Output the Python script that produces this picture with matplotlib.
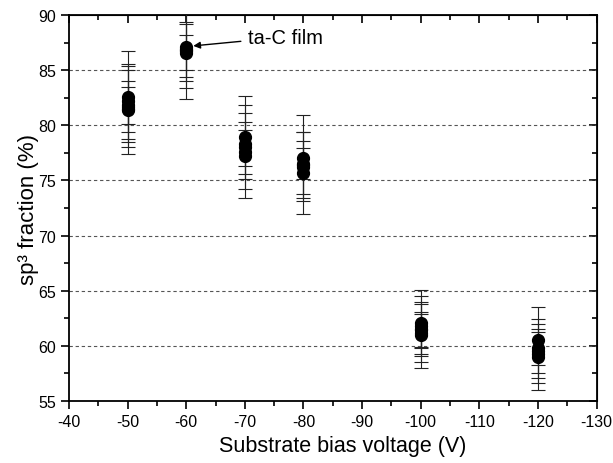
import matplotlib.pyplot as plt
from matplotlib.ticker import MultipleLocator

plt.rcParams["font.family"] = ["Liberation Sans", "DejaVu Sans"]
plt.rcParams["axes.unicode_minus"] = False

# substrate bias voltage (V) and sp3 fraction (%) with error bars
bias = [-50] * 6 + [-60] * 5 + [-70] * 5 + [-80] * 5 + [-100] * 6 + [-120] * 5
sp3 = [82.6, 82.2, 81.8, 81.5, 81.4, 81.7,
       87.1, 86.9, 86.7, 86.6, 86.8,
       78.9, 78.0, 77.25, 78.3, 77.6,
       77.0, 76.4, 75.7, 76.2, 76.5,
       62.1, 61.5, 61.0, 61.4, 61.8, 61.2,
       60.5, 59.55, 59.0, 59.8, 59.3]
err = [4.1, 3.4, 1.7, 3.5, 4.0, 2.3,
       4.7, 3.5, 2.7, 1.6, 2.4,
       3.8, 3.8, 3.85, 2.0, 2.0,
       3.9, 3.0, 3.7, 2.4, 1.4,
       3.0, 3.0, 3.0, 1.5, 2.0, 1.9,
       3.0, 2.9, 3.0, 1.5, 2.2]

grid_y = [60, 65, 70, 75, 80, 85]

fig = plt.figure(figsize=(6.13, 4.64), dpi=100)
ax = fig.add_axes([0.1126, 0.1336, 0.8605, 0.8319])

for g in grid_y:
    ax.axhline(g, color="#555555", lw=0.8, ls=(0, (3, 2.5)), zorder=1)

ax.errorbar(bias, sp3, yerr=err, fmt="o", color="black", ms=8.5,
            ecolor="#222222", elinewidth=0.8, capsize=5, capthick=0.8,
            zorder=3)

ax.set_xlim(-40, -130)
ax.set_ylim(55, 90)
ax.xaxis.set_major_locator(MultipleLocator(10))
ax.xaxis.set_minor_locator(MultipleLocator(5))
ax.yaxis.set_major_locator(MultipleLocator(5))
ax.yaxis.set_minor_locator(MultipleLocator(2.5))
ax.tick_params(which="both", direction="out", labelsize=11.5, width=1.2)
ax.tick_params(which="major", length=6)
ax.tick_params(which="minor", length=3.5)
for s in ax.spines.values():
    s.set_linewidth(1.3)

# mirrored ticks pointing inward on top and right
top = ax.secondary_xaxis("top")
top.xaxis.set_major_locator(MultipleLocator(10))
top.xaxis.set_minor_locator(MultipleLocator(5))
top.tick_params(which="both", direction="in", labeltop=False, width=1.2)
top.tick_params(which="major", length=6)
top.tick_params(which="minor", length=3.5)
right = ax.secondary_yaxis("right")
right.yaxis.set_major_locator(MultipleLocator(5))
right.yaxis.set_minor_locator(MultipleLocator(2.5))
right.tick_params(which="both", direction="in", labelright=False, width=1.2)
right.tick_params(which="major", length=6)
right.tick_params(which="minor", length=3.5)

ax.set_xlabel("Substrate bias voltage (V)", fontsize=15.5)
ax.xaxis.set_label_coords(0.519, -0.088)
ax.set_ylabel("sp³ fraction (%)", fontsize=16)
ax.yaxis.set_label_coords(-0.056, 0.5)

ax.annotate("ta-C film", xy=(-61.2, 87.2), xytext=(-70.5, 88.0),
            fontsize=14.5, ha="left", va="center",
            arrowprops=dict(arrowstyle="-|>", color="black", lw=1.0,
                            mutation_scale=10, shrinkA=3, shrinkB=0))

fig.savefig("out.png", dpi=100)
